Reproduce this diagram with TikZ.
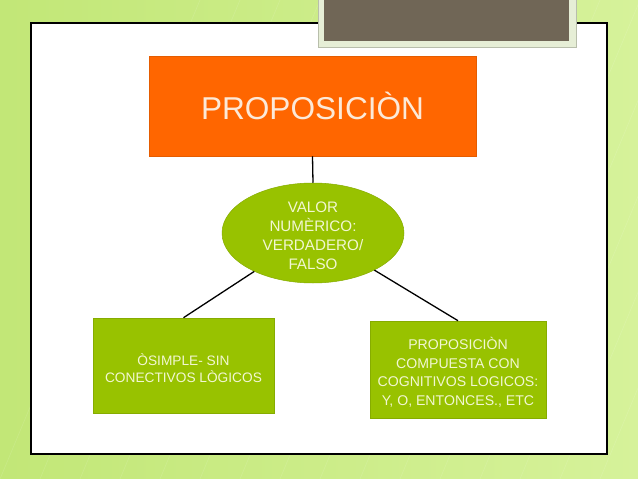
\documentclass[tikz,border=0pt]{standalone}
\usepackage{fontspec}
\setmainfont{Liberation Sans}
\usetikzlibrary{shapes.geometric}
\definecolor{bgA}{HTML}{C2E777}
\definecolor{bgB}{HTML}{D6F29A}
\definecolor{tabc}{HTML}{706656}
\definecolor{tabedge}{HTML}{E6EED6}
\definecolor{orangec}{HTML}{FF6600}
\definecolor{greenc}{HTML}{98C200}
\definecolor{greenedge}{HTML}{86AC00}
\definecolor{lighttext}{HTML}{F2F7D2}
\definecolor{orangetext}{HTML}{FCE9D8}
\tikzset{
  px/.style={x=1pt,y=-1pt},
  greenbox/.style={draw=greenedge, line width=0.6pt, fill=greenc, inner sep=0pt},
  lighttxt/.style={inner sep=0pt, align=center, text=lighttext},
  link/.style={draw=black, line width=1.3pt}
}
\begin{document}
\begin{tikzpicture}[px]
\useasboundingbox (0,0) rectangle (638,479);
% background
\shade[left color=bgA, right color=bgB] (0,0) rectangle (638,479);
\foreach \i in {0,40,...,640}{
  \draw[white, opacity=0.12, line width=0.6pt] (\i,479) -- (\i+200,0);
}
% frame
\node[draw=black, line width=1.1pt, fill=white, minimum width=576pt, minimum height=431pt, inner sep=0pt] (frame) at (319,238.5) {};
% tab
\node[fill=tabedge, draw=tabedge!80!black, line width=0.4pt, minimum width=258pt, minimum height=54pt, inner sep=0pt] (tabout) at (447,20) {};
\node[fill=tabc, minimum width=245pt, minimum height=48pt, inner sep=0pt] (tab) at (446.5,17) {};
% orange box
\node[fill=orangec, draw=orangec!90!black, line width=0.5pt, minimum width=327pt, minimum height=100pt, inner sep=0pt, text=orangetext, font=\fontsize{31.6}{36}\selectfont] (prop) at (312.5,106) {PROPOSICIÒN};
% ellipse
\node[ellipse, fill=greenc, draw=greenedge, line width=0.5pt, minimum width=182pt, minimum height=100pt, inner sep=0pt] (val) at (313,233) {};
\node[lighttxt, font=\fontsize{15.2}{19}\selectfont] (valtext) at ([yshift=-2.5pt]val.center) {VALOR\\NUMÈRICO:\\VERDADERO/\\FALSO};
% left box
\node[greenbox, minimum width=181pt, minimum height=95pt] (simple) at (183.5,365.5) {};
\node[lighttxt, font=\fontsize{13.7}{16.5}\selectfont] (simpletext) at ([yshift=-2.5pt]simple.center) {ÒSIMPLE- SIN\\CONECTIVOS LÒGICOS};
% right box
\node[greenbox, minimum width=176pt, minimum height=97pt] (comp) at (458,369.5) {};
\node[lighttxt, font=\fontsize{14.1}{18.5}\selectfont] (comptext) at ([yshift=-3pt]comp.center) {PROPOSICIÒN\\COMPUESTA CON\\COGNITIVOS LOGICOS:\\Y, O, ENTONCES., ETC};
% connectors
\draw[link] (prop.south) -- (val.north);
\draw[link] (val) -- (simple.north);
\draw[link] (val) -- (comp.north);
\end{tikzpicture}
\end{document}
